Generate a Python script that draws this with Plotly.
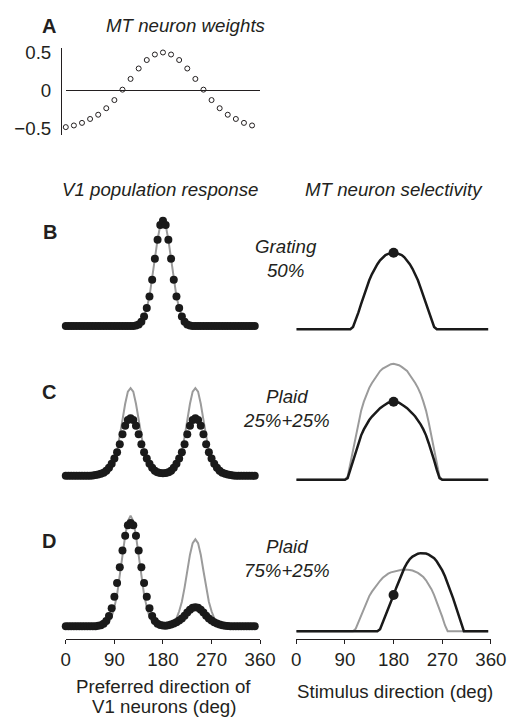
import plotly.graph_objects as go

W, H = 529, 726

# ---------------- data ----------------
# Panel A: MT neuron weights (24 V1 preferred directions, 15 deg apart)
weight_dirs = [0, 15, 30, 45, 60, 75, 90, 105, 120, 135, 150, 165,
               180, 195, 210, 225, 240, 255, 270, 285, 300, 315, 330, 345]
mt_weights = [-0.483, -0.461, -0.427, -0.375, -0.319, -0.233, -0.125, 0.013,
              0.155, 0.293, 0.405, 0.478, 0.505, 0.478, 0.405, 0.293,
              0.155, 0.013, -0.125, -0.233, -0.319, -0.375, -0.427, -0.461]

# Left column: V1 population response, preferred directions 0..350 in 5 deg steps
v1_pref = list(range(0, 351, 5))
v1_grating = [0, 0, 0, 0, 0, 0, 0, 0, 0, 0, 0, 0, 0, 0, 0, 0, 0, 0, 0, 0, 0, 0, 0, 0, 0, 0,
              0.005, 0.015, 0.04, 0.09, 0.17, 0.28, 0.44, 0.64, 0.82, 0.96, 1.0,
              0.96, 0.82, 0.64, 0.44, 0.28, 0.17, 0.09, 0.04, 0.015, 0.005,
              0, 0, 0, 0, 0, 0, 0, 0, 0, 0, 0, 0, 0, 0, 0, 0, 0, 0, 0, 0, 0, 0, 0, 0]
v1_plaid25_lin = [0, 0, 0, 0, 0, 0, 0, 0, 0, 0, 0, 0, 0, 0,
                  0.004, 0.012, 0.033, 0.075, 0.143, 0.235, 0.37, 0.53, 0.685, 0.80, 0.833,
                  0.80, 0.685, 0.53, 0.37, 0.235, 0.143, 0.075, 0.033, 0.012, 0.004,
                  0, 0, 0,
                  0.004, 0.012, 0.033, 0.075, 0.143, 0.235, 0.37, 0.53, 0.685, 0.80, 0.833,
                  0.80, 0.685, 0.53, 0.37, 0.235, 0.143, 0.075, 0.033, 0.012, 0.004,
                  0, 0, 0, 0, 0, 0, 0, 0, 0, 0, 0, 0]
v1_plaid25_norm = [0, 0, 0, 0, 0, 0, 0, 0, 0, 0,
                   0.003, 0.007, 0.012, 0.02, 0.03, 0.049, 0.077, 0.115, 0.164, 0.224,
                   0.30, 0.394, 0.476, 0.53, 0.547, 0.53, 0.476, 0.394, 0.30, 0.224,
                   0.164, 0.115, 0.077, 0.049, 0.033, 0.027, 0.024, 0.027, 0.033, 0.049,
                   0.077, 0.115, 0.164, 0.224, 0.30, 0.394, 0.476, 0.53, 0.547, 0.53,
                   0.476, 0.394, 0.30, 0.224, 0.164, 0.115, 0.077, 0.049, 0.03, 0.02,
                   0.012, 0.007, 0.003,
                   0, 0, 0, 0, 0, 0, 0, 0]
v1_plaid75_lin = [0, 0, 0, 0, 0, 0, 0, 0, 0, 0, 0, 0, 0, 0,
                  0.005, 0.016, 0.042, 0.09, 0.18, 0.30, 0.47, 0.67, 0.86, 1.0, 1.05,
                  1.0, 0.86, 0.67, 0.47, 0.30, 0.18, 0.09, 0.042, 0.016, 0.005,
                  0, 0, 0,
                  0.004, 0.012, 0.033, 0.075, 0.142, 0.233, 0.367, 0.525, 0.68, 0.79, 0.826,
                  0.79, 0.68, 0.525, 0.367, 0.233, 0.142, 0.075, 0.033, 0.012, 0.004,
                  0, 0, 0, 0, 0, 0, 0, 0, 0, 0, 0, 0]
v1_plaid75_norm = [0, 0, 0, 0, 0, 0, 0, 0, 0, 0, 0, 0,
                   0.004, 0.01, 0.024, 0.05, 0.096, 0.17, 0.28, 0.41, 0.56, 0.72, 0.86, 0.96, 0.98,
                   0.96, 0.86, 0.72, 0.56, 0.41, 0.28, 0.17, 0.096, 0.05, 0.024, 0.012, 0.007,
                   0.005, 0.009, 0.016, 0.025, 0.038, 0.054, 0.074, 0.099, 0.13, 0.157, 0.175, 0.18,
                   0.175, 0.157, 0.13, 0.099, 0.074, 0.054, 0.038, 0.025, 0.016, 0.009, 0.005, 0.003,
                   0, 0, 0, 0, 0, 0, 0, 0, 0, 0]

# Right column: MT neuron selectivity vs stimulus direction 0..355 in 5 deg steps
stim_dir = list(range(0, 356, 5))
mt_grating = [0, 0, 0, 0, 0, 0, 0, 0, 0, 0, 0, 0, 0, 0, 0, 0, 0, 0, 0, 0, 0,
              0.03, 0.12, 0.22, 0.33, 0.44, 0.54, 0.64, 0.72, 0.79, 0.85, 0.90, 0.94, 0.97, 0.985, 0.996,
              1.0,
              0.996, 0.985, 0.97, 0.94, 0.90, 0.85, 0.79, 0.72, 0.64, 0.54, 0.44, 0.33, 0.22, 0.12, 0.03,
              0, 0, 0, 0, 0, 0, 0, 0, 0, 0, 0, 0, 0, 0, 0, 0, 0, 0, 0, 0]
mt_plaid25_ref = [0, 0, 0, 0, 0, 0, 0, 0, 0, 0, 0, 0, 0, 0, 0, 0, 0, 0, 0,
                  0.04, 0.22, 0.40, 0.58, 0.748, 0.903, 1.02, 1.123, 1.20, 1.265, 1.32, 1.368, 1.42,
                  1.452, 1.475, 1.497, 1.51, 1.515, 1.51, 1.497, 1.475, 1.452,
                  1.42, 1.368, 1.32, 1.265, 1.20, 1.123, 1.02, 0.903, 0.748, 0.58, 0.40, 0.22, 0.04,
                  0, 0, 0, 0, 0, 0, 0, 0, 0, 0, 0, 0, 0, 0, 0, 0, 0, 0]
mt_plaid25 = [0, 0, 0, 0, 0, 0, 0, 0, 0, 0, 0, 0, 0, 0, 0, 0, 0, 0, 0,
              0.02, 0.129, 0.252, 0.374, 0.477, 0.58, 0.658, 0.723, 0.78, 0.826, 0.865, 0.903, 0.935,
              0.961, 0.987, 1.006, 1.015, 1.019, 1.015, 1.006, 0.987, 0.961,
              0.935, 0.903, 0.865, 0.826, 0.78, 0.723, 0.658, 0.58, 0.477, 0.374, 0.252, 0.129, 0.02,
              0, 0, 0, 0, 0, 0, 0, 0, 0, 0, 0, 0, 0, 0, 0, 0, 0, 0]
mt_plaid75_ref = [0, 0, 0, 0, 0, 0, 0, 0, 0, 0, 0, 0, 0, 0, 0, 0, 0, 0, 0, 0, 0, 0,
                  0.032, 0.116, 0.206, 0.297, 0.39, 0.458, 0.516, 0.568, 0.615, 0.658, 0.697, 0.726,
                  0.751, 0.768, 0.779, 0.79, 0.797, 0.803, 0.805, 0.805, 0.80, 0.792, 0.781, 0.761,
                  0.735, 0.707, 0.665, 0.613, 0.548, 0.471, 0.381, 0.29, 0.187, 0.077,
                  0, 0, 0, 0, 0, 0, 0, 0, 0, 0, 0, 0, 0, 0, 0, 0]
mt_plaid75 = [0, 0, 0, 0, 0, 0, 0, 0, 0, 0, 0, 0, 0, 0, 0, 0, 0, 0, 0, 0, 0, 0, 0, 0, 0, 0, 0, 0, 0, 0, 0,
              0.026, 0.11, 0.20, 0.29, 0.38, 0.471, 0.568, 0.658, 0.742, 0.826, 0.89, 0.942, 0.974,
              0.997, 1.012, 1.019, 1.019, 1.013, 1.0, 0.981, 0.952, 0.91, 0.858, 0.794, 0.716,
              0.626, 0.529, 0.432, 0.323, 0.213, 0.097,
              0, 0, 0, 0, 0, 0, 0, 0, 0, 0]

tick_vals = [0, 90, 180, 270, 360]
tick_text = ["0", "90", "180", "270", "360"]
weight_ticks = [-0.5, 0, 0.5]
weight_tick_text = ["\u22120.5", "0", "0.5"]

# ---------------- styling / layout ----------------
FONT = "Liberation Sans, Arial, Helvetica, sans-serif"
INK = "#231f20"
GRAY = "#9b9b9b"
BLACK = "#1a1a1a"
FS = 18.7

LEFT_X = (63.3, 265.7)
RIGHT_X = (303.3, 506.0)


def xdom(pair):
    return [pair[0] / W, pair[1] / W]


def ydom(top, bottom):
    return [1 - bottom / H, 1 - top / H]


def yrange(top, bottom, base, scale):
    return [-(bottom - base) / scale, (base - top) / scale]


# panel: (xcols, top, bottom, baseline, px per unit)
panels = {
    1: (LEFT_X, 43.3, 131.7, 86.7, 76.5),     # A
    2: (LEFT_X, 200, 335, 325, 106.5),        # B left
    3: (LEFT_X, 370, 487, 476.7, 106.5),      # C left
    4: (LEFT_X, 500, 642, 629, 106.5),        # D left
    5: (RIGHT_X, 230, 338, 328.3, 77.5),      # B right
    6: (RIGHT_X, 350, 490, 480.7, 77.5),      # C right
    7: (RIGHT_X, 540, 642, 634, 77.5),        # D right
}

fig = go.Figure()
layout = dict(width=W, height=H, margin=dict(l=0, r=0, t=0, b=0),
              paper_bgcolor="white", plot_bgcolor="white", showlegend=False,
              font=dict(family=FONT, size=FS, color=INK))

hidden = dict(visible=False, showgrid=False, zeroline=False)
for i, (xc, top, bot, base, sc) in panels.items():
    xs = "xaxis" if i == 1 else f"xaxis{i}"
    ys = "yaxis" if i == 1 else f"yaxis{i}"
    ya = "y" if i == 1 else f"y{i}"
    xa = "x" if i == 1 else f"x{i}"
    layout[xs] = dict(hidden, domain=xdom(xc), range=[0, 360], anchor=ya)
    layout[ys] = dict(hidden, domain=ydom(top, bot), range=yrange(top, bot, base, sc), anchor=xa)

# Panel A axes
layout["yaxis"].update(visible=True, showline=True, linecolor=INK, linewidth=1,
                       ticks="", tickvals=weight_ticks, ticktext=weight_tick_text,
                       tickfont=dict(size=FS, color=INK), ticklabelstandoff=6,
                       zeroline=True, zerolinecolor=INK, zerolinewidth=1,
                       anchor="free", position=58.3 / W)
# bottom x axes of row D
for k in (4, 7):
    layout[f"xaxis{k}"].update(visible=True, showline=True, linecolor=INK, linewidth=1,
                               ticks="outside", ticklen=4, tickwidth=1, tickcolor=INK,
                               tickvals=tick_vals, ticktext=tick_text,
                               tickfont=dict(size=FS, color=INK))

# ---- traces ----
fig.add_trace(go.Scatter(x=weight_dirs, y=mt_weights, mode="markers", xaxis="x", yaxis="y",
                         marker=dict(symbol="circle-open", size=5, color=INK, line=dict(width=1)),
                         cliponaxis=False))

left_sets = [(2, v1_grating, v1_grating), (3, v1_plaid25_lin, v1_plaid25_norm),
             (4, v1_plaid75_lin, v1_plaid75_norm)]
for k, lin, norm in left_sets:
    fig.add_trace(go.Scatter(x=v1_pref, y=lin, mode="lines", xaxis=f"x{k}", yaxis=f"y{k}",
                             line=dict(color=GRAY, width=2), cliponaxis=False))
    fig.add_trace(go.Scatter(x=v1_pref, y=norm, mode="markers", xaxis=f"x{k}", yaxis=f"y{k}",
                             marker=dict(size=8, color=BLACK), cliponaxis=False))

right_sets = [(5, None, mt_grating), (6, mt_plaid25_ref, mt_plaid25), (7, mt_plaid75_ref, mt_plaid75)]
i180 = stim_dir.index(180)
for k, ref, resp in right_sets:
    if ref is not None:
        fig.add_trace(go.Scatter(x=stim_dir, y=ref, mode="lines", xaxis=f"x{k}", yaxis=f"y{k}",
                                 line=dict(color=GRAY, width=2), cliponaxis=False))
    fig.add_trace(go.Scatter(x=stim_dir, y=resp, mode="lines", xaxis=f"x{k}", yaxis=f"y{k}",
                             line=dict(color=BLACK, width=2.5), cliponaxis=False))
    fig.add_trace(go.Scatter(x=[stim_dir[i180]], y=[resp[i180]], mode="markers",
                             xaxis=f"x{k}", yaxis=f"y{k}",
                             marker=dict(size=10, color=BLACK), cliponaxis=False))


# ---- text ----
def ann(text, x, y, size=FS, xanchor="center"):
    return dict(text=text, x=x / W, y=1 - y / H, xref="paper", yref="paper",
                xanchor=xanchor, yanchor="middle", showarrow=False,
                font=dict(size=size, color=INK, family=FONT))


annotations = [
    ann("<b>A</b>", 46, 21, 20),
    ann("<i>MT neuron weights</i>", 188, 21),
    ann("<i>V1 population response</i>", 161, 187),
    ann("<i>MT neuron selectivity</i>", 405, 187),
    ann("<b>B</b>", 46.5, 230, 20),
    ann("<b>C</b>", 46, 392, 20),
    ann("<b>D</b>", 46, 543, 20),
    ann("<i>Grating<br>50%</i>", 293, 256.5),
    ann("<i>Plaid<br>25%+25%</i>", 293.5, 408.5),
    ann("<i>Plaid<br>75%+25%</i>", 293.5, 560),
    ann("Preferred direction of", 165.5, 690),
    ann("V1 neurons (deg)", 165.5, 710),
    ann("Stimulus direction (deg)", 406, 695),
]
layout["annotations"] = annotations
fig.update_layout(**layout)

fig.write_html("out.html", config={"displayModeBar": False},
               post_script="document.body.style.margin='0';")
